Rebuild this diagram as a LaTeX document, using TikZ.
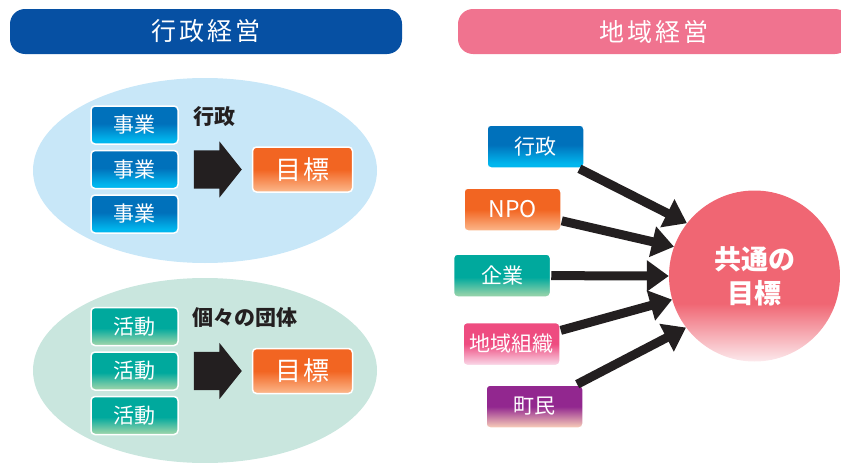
\documentclass[tikz,border=0pt]{standalone}
\usepackage{fontspec}
\setmainfont{Noto Sans CJK JP}
\definecolor{colorGyoseiBar}{HTML}{0650A3}
\definecolor{colorChiikiBar}{HTML}{F0738F}
\definecolor{colorFieldBlue}{HTML}{C8E7F8}
\definecolor{colorFieldGreen}{HTML}{C9E6DE}
\definecolor{colorArrow}{HTML}{231F20}
\definecolor{blueTop}{HTML}{0071BB}
\definecolor{blueBottom}{HTML}{00B6EE}
\definecolor{orangeTop}{HTML}{F26522}
\definecolor{orangeBottom}{HTML}{FCB98D}
\definecolor{tealTop}{HTML}{00A99D}
\definecolor{tealBottom}{HTML}{8FD1A9}
\definecolor{pinkTop}{HTML}{EE4C80}
\definecolor{pinkBottom}{HTML}{FADDEB}
\definecolor{purpleTop}{HTML}{92278F}
\definecolor{purpleBottom}{HTML}{FCD3BA}
\definecolor{goalTop}{HTML}{F06673}
\definecolor{goalBottom}{HTML}{FCE9EC}
\usetikzlibrary{positioning, shapes.geometric, shapes.arrows, arrows.meta}
\pgfdeclareverticalshading{shadeBlue}{100bp}{color(0bp)=(blueBottom); color(30bp)=(blueBottom); color(52bp)=(blueTop); color(100bp)=(blueTop)}
\pgfdeclareverticalshading{shadeOrange}{100bp}{color(0bp)=(orangeBottom); color(25bp)=(orangeBottom); color(50bp)=(orangeTop); color(100bp)=(orangeTop)}
\pgfdeclareverticalshading{shadeTeal}{100bp}{color(0bp)=(tealBottom); color(28bp)=(tealBottom); color(48bp)=(tealTop); color(100bp)=(tealTop)}
\pgfdeclareverticalshading{shadePink}{100bp}{color(0bp)=(pinkBottom); color(25bp)=(pinkBottom); color(50bp)=(pinkTop); color(100bp)=(pinkTop)}
\pgfdeclareverticalshading{shadePurple}{100bp}{color(0bp)=(purpleBottom); color(25bp)=(purpleBottom); color(50bp)=(purpleTop); color(100bp)=(purpleTop)}
\pgfdeclareverticalshading{shadeGoal}{100bp}{color(0bp)=(goalBottom); color(25bp)=(goalBottom); color(42bp)=(goalTop); color(100bp)=(goalTop)}
\tikzset{
  bar/.style={rounded corners=15pt, minimum width=392pt, minimum height=45pt, inner sep=0pt, text=white, font=\fontsize{25}{25}\selectfont},
  field/.style={ellipse, minimum width=344pt, minimum height=185pt, inner sep=0pt},
  box/.style={rounded corners=4pt, draw=white, line width=1.5pt, shade, text=white, minimum width=87pt, minimum height=38pt, inner sep=0pt, font=\fontsize{21}{21}\selectfont},
  jigyo/.style={box, shading=shadeBlue},
  katsudo/.style={box, shading=shadeTeal},
  goalbox/.style={box, shading=shadeOrange, minimum width=100pt, minimum height=45pt, font=\fontsize{26}{26}\selectfont},
  actor/.style={box, minimum width=97pt, minimum height=43pt},
  bigarrow/.style={single arrow, fill=colorArrow, minimum height=48pt, single arrow head extend=9pt, single arrow tip angle=103, inner xsep=0pt, inner ysep=19pt, outer sep=0pt},
  caption/.style={text=colorArrow, font=\fontsize{21}{21}\selectfont\bfseries}
}

\begin{document}
\begin{tikzpicture}[x=1pt, y=-1pt, >={Triangle[length=22pt, width=30pt]}, node distance=5pt]
\useasboundingbox (0,0) rectangle (841,463);
% titles
\node[bar, fill=colorGyoseiBar] (gyoseiTitle) at (206,31.5) {行\kern3pt 政\kern3pt 経\kern3pt 営};
\node[bar, fill=colorChiikiBar] (chiikiTitle) at (654,31.5) {地\kern3pt 域\kern3pt 経\kern3pt 営};
% left: 行政
\node[field, fill=colorFieldBlue] (fieldGyosei) at (205,170.5) {};
\node[jigyo] (jigyo1) at (134.5,125) {事業};
\node[jigyo, below=of jigyo1] (jigyo2) {事業};
\node[jigyo, below=of jigyo2] (jigyo3) {事業};
\node[bigarrow, right=15pt of jigyo2] (arrowGyosei) {};
\node[goalbox, right=10pt of arrowGyosei] (mokuhyo1) {目\kern3pt 標};
\node[caption] (labelGyosei) at (214,117) {行政};
% left: 個々の団体
\node[field, fill=colorFieldGreen] (fieldDantai) at (205,370.5) {};
\node[katsudo] (katsudo1) at (134.5,326.5) {活動};
\node[katsudo, below=of katsudo1] (katsudo2) {活動};
\node[katsudo, below=of katsudo2] (katsudo3) {活動};
\node[bigarrow, right=15pt of katsudo2] (arrowDantai) {};
\node[goalbox, right=10pt of arrowDantai] (mokuhyo2) {目\kern3pt 標};
\node[caption] (labelDantai) at (245,318) {個々の団体};
% right: 地域経営
\node[actor, shading=shadeBlue] (gyosei) at (535.5,146.5) {行政};
\node[actor, shading=shadeOrange, font=\fontsize{23}{23}\selectfont] (npo) at (512.5,209.5) {NPO};
\node[actor, shading=shadeTeal] (kigyo) at (502,275.5) {企業};
\node[actor, shading=shadePink] (soshiki) at (511.5,344) {地域組織};
\node[actor, shading=shadePurple] (chomin) at (534.5,406.5) {町民};
\node[circle, shade, shading=shadeGoal, minimum size=171pt, inner sep=0pt, text=white, align=center, font=\fontsize{27}{34}\selectfont\bfseries] (goal) at (754.5,276) {共通の\\目標};
\draw [->, line width=9pt, colorArrow] (gyosei) edge (goal.142);
\draw [->, line width=9pt, colorArrow] (npo) edge (goal.160);
\draw [->, line width=9pt, colorArrow] (kigyo) edge (goal.180);
\draw [->, line width=9pt, colorArrow] (soshiki) edge (goal.196);
\draw [->, line width=9pt, colorArrow] (chomin) edge (goal.217);
\end{tikzpicture}
\end{document}
